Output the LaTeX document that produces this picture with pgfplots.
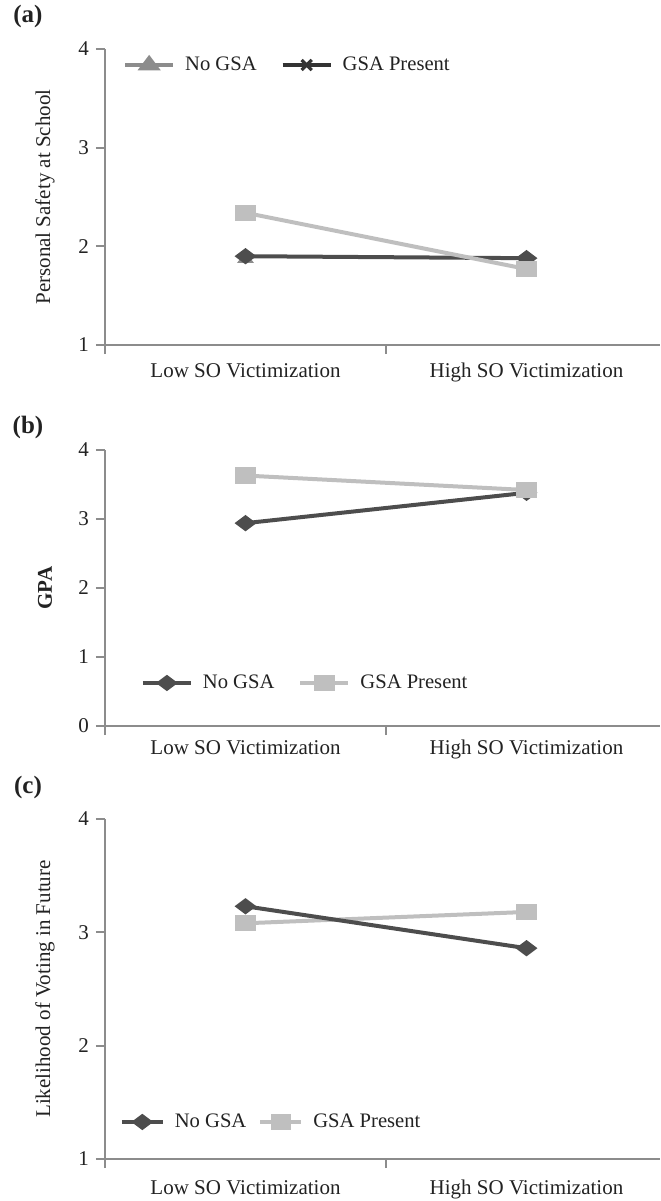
\documentclass[border=0pt]{standalone}
\usepackage{fontspec}
\setmainfont{Liberation Serif}
\usepackage{pgfplots}
\pgfplotsset{compat=1.18}
\definecolor{darkln}{HTML}{4D4D4D}
\definecolor{lightln}{HTML}{BFBFBF}
\definecolor{midgray}{HTML}{8C8C8C}
\definecolor{axgray}{HTML}{8C8C8C}
\definecolor{txt}{HTML}{222222}

\pgfplotsset{
 panel/.style={
  scale only axis, width=277.5pt,
  xmin=-0.5, xmax=1.475,
  axis lines*=left,
  axis line style={draw=axgray, line width=1pt},
  tick style={draw=axgray, line width=1pt},
  tick align=outside, major tick length=4.5pt,
  xtick={-0.5,0.5}, xticklabels={},
  extra x ticks={0,1},
  extra x tick labels={Low SO Victimization, High SO Victimization},
  extra x tick style={major tick length=0pt},
  /pgf/number format/assume math mode=true,
  ticklabel style={text=txt, font=\fontsize{10.5}{12.6}\selectfont},
  ylabel style={at={(axis description cs:-0.108,0.5)}, anchor=center, text=txt},
  legend columns=2,
  legend cell align=left,
  legend style={draw=none, fill=none, inner sep=0pt, anchor=west,
    font=\fontsize{10.3}{12}\selectfont, text=txt,
    /tikz/every odd column/.append style={column sep=3pt},
    /tikz/every even column/.append style={column sep=10pt}},
  legend image code/.code={\draw[mark repeat=2,mark phase=2,#1] plot coordinates {(0pt,0pt)(12pt,0pt)(24pt,0pt)};},
 },
 darkser/.style={darkln, line width=2pt, mark=diamond*, mark size=3.8pt, mark options={solid, rotate=90}},
 lightser/.style={lightln, line width=2pt, mark=square*, mark size=3.1pt, mark options={solid, xscale=1.3}},
}

\begin{document}
\begin{tikzpicture}[font=\fontsize{10.5}{12.6}\selectfont, text=txt]
\useasboundingbox (0,0) rectangle (330pt,-600.5pt);
\node[font=\bfseries\fontsize{12.5}{14}\selectfont, text=txt] at (14pt,-8pt) {(a)};
\node[font=\bfseries\fontsize{12.5}{14}\selectfont, text=txt] at (14pt,-213.5pt) {(b)};
\node[font=\bfseries\fontsize{12.5}{14}\selectfont, text=txt] at (14pt,-393.5pt) {(c)};

% Panel (a)
\begin{axis}[panel, at={(52.5pt,-172.5pt)}, anchor=south west, height=148pt,
  ymin=1, ymax=4, ytick={1,2,3,4},
  ylabel={Personal Safety at School},
  extra x tick style={xticklabel style={anchor=base, yshift=-16pt}},
  legend style={at={(axis description cs:0.032,0.946)}}]
\addlegendimage{midgray, line width=2pt, mark=triangle*, mark size=3.4pt, mark options={solid, xscale=1.3}}
\addlegendentry{No GSA}
\addlegendimage{black!80, line width=2pt, mark=x, mark size=3.6pt, mark options={solid, line width=1.6pt}}
\addlegendentry{GSA Present}
\addplot[forget plot, only marks, midgray, mark=triangle*, mark size=3.4pt, mark options={xscale=1.3}] coordinates {(0,1.87)};
\addplot[forget plot, darkser] coordinates {(0,1.90) (1,1.88)};
\addplot[forget plot, lightser] coordinates {(0,2.34) (1,1.77)};
\end{axis}

% Panel (b)
\begin{axis}[panel, at={(52.5pt,-363pt)}, anchor=south west, height=138pt,
  ymin=0, ymax=4, ytick={0,1,2,3,4},
  ylabel={\bfseries GPA},
  extra x tick style={xticklabel style={anchor=base, yshift=-14pt}},
  legend style={at={(axis description cs:0.064,0.156)}}]
\addplot[darkser] coordinates {(0,2.94) (1,3.38)};
\addlegendentry{No GSA}
\addplot[lightser] coordinates {(0,3.63) (1,3.42)};
\addlegendentry{GSA Present}
\end{axis}

% Panel (c)
\begin{axis}[panel, at={(52.5pt,-579.5pt)}, anchor=south west, height=170pt,
  ymin=1, ymax=4, ytick={1,2,3,4},
  ylabel={Likelihood of Voting in Future},
  extra x tick style={xticklabel style={anchor=base, yshift=-17.5pt}},
  legend image code/.code={\draw[mark repeat=2,mark phase=2,#1] plot coordinates {(0pt,0pt)(10.25pt,0pt)(20.5pt,0pt)};},
  legend style={at={(axis description cs:0.026,0.109)}, /tikz/every even column/.append style={column sep=4pt}}]
\addlegendimage{darkser}
\addlegendentry{No GSA}
\addlegendimage{lightser}
\addlegendentry{GSA Present}
\addplot[forget plot, lightser] coordinates {(0,3.08) (1,3.18)};
\addplot[forget plot, darkser] coordinates {(0,3.23) (1,2.86)};
\end{axis}
\end{tikzpicture}
\end{document}
